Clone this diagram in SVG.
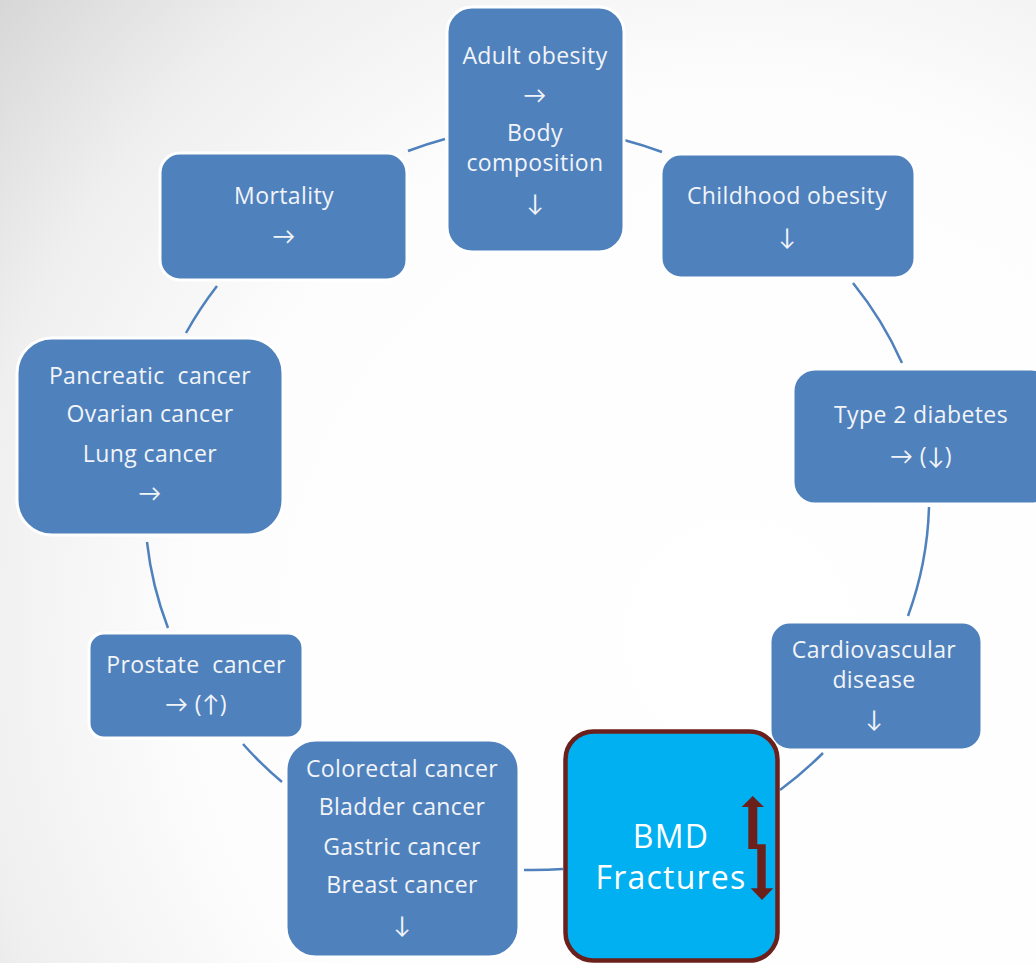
<svg xmlns="http://www.w3.org/2000/svg" width="1036" height="963" viewBox="0 0 1036 963">
<defs>
<radialGradient id="bg" gradientUnits="userSpaceOnUse" cx="740" cy="640" r="1000">
<stop offset="0" stop-color="#ffffff"/>
<stop offset="0.55" stop-color="#fdfdfd"/>
<stop offset="0.78" stop-color="#efefef"/>
<stop offset="1" stop-color="#d4d4d4"/>
</radialGradient>
<style>
.box{fill:#4f81bd;stroke:#ffffff;stroke-width:3}
.t{font-family:"Open Sans",Lato,"Liberation Sans",sans-serif;font-size:23px;letter-spacing:0.4px;fill:#f2f4f8;text-anchor:middle}
.b{font-size:32px;letter-spacing:1.2px;fill:#ffffff}
.c{fill:none;stroke:#4f81bd;stroke-width:2.5}
</style>
</defs>
<rect width="1036" height="963" fill="url(#bg)"/>
<g id="connectors">
<path class="c" d="M624,140 A392,366 0 0 1 662,152"/>
<path class="c" d="M853,283 A392,366 0 0 1 902,363"/>
<path class="c" d="M929,507 A392,366 0 0 1 908,616"/>
<path class="c" d="M823,753 A392,366 0 0 1 780,790"/>
<path class="c" d="M563,869 A392,366 0 0 1 524,870"/>
<path class="c" d="M282,782 A392,366 0 0 1 243,744"/>
<path class="c" d="M168,628 A392,366 0 0 1 147,542"/>
<path class="c" d="M186,333 A392,366 0 0 1 217,286"/>
<path class="c" d="M408,151 A392,366 0 0 1 445,139"/>
</g>
<g id="adult">
<rect class="box" x="447" y="7" width="177" height="245" rx="25"/>
<text class="t" x="535" y="64">Adult obesity</text>
<text class="t" x="535" y="103">→</text>
<text class="t" x="535" y="141">Body</text>
<text class="t" x="535" y="171">composition</text>
<text class="t" x="535" y="211">↓</text>
</g>
<g id="mortality">
<rect class="box" x="160" y="153" width="247" height="127" rx="20"/>
<text class="t" x="284" y="204">Mortality</text>
<text class="t" x="284" y="244">→</text>
</g>
<g id="childhood">
<rect class="box" x="661" y="154" width="254" height="124" rx="20"/>
<text class="t" x="787" y="204">Childhood obesity</text>
<text class="t" x="787" y="245">↓</text>
</g>
<g id="diabetes">
<rect class="box" x="793" y="369" width="260" height="135" rx="22"/>
<text class="t" x="921" y="423">Type 2 diabetes</text>
<text class="t" x="921" y="464">→ (↓)</text>
</g>
<g id="pancreatic">
<rect class="box" x="17" y="338" width="266" height="197" rx="35"/>
<text class="t" x="150" y="384" xml:space="preserve">Pancreatic  cancer</text>
<text class="t" x="150" y="422">Ovarian cancer</text>
<text class="t" x="150" y="462">Lung cancer</text>
<text class="t" x="150" y="501">→</text>
</g>
<g id="cardio">
<rect class="box" x="770" y="622" width="212" height="128" rx="20"/>
<text class="t" x="874" y="658">Cardiovascular</text>
<text class="t" x="874" y="688">disease</text>
<text class="t" x="874" y="727">↓</text>
</g>
<g id="prostate">
<rect class="box" x="89" y="633" width="214" height="105" rx="15"/>
<text class="t" x="196" y="673" xml:space="preserve">Prostate  cancer</text>
<text class="t" x="196" y="712">→ (↑)</text>
</g>
<g id="colorectal">
<rect class="box" x="286" y="740" width="233" height="217" rx="30"/>
<text class="t" x="402" y="777">Colorectal cancer</text>
<text class="t" x="402" y="815">Bladder cancer</text>
<text class="t" x="402" y="855">Gastric cancer</text>
<text class="t" x="402" y="893">Breast cancer</text>
<text class="t" x="402" y="933">↓</text>
</g>
<g id="bmd">
<rect x="565.5" y="731.5" width="212" height="229" rx="28" fill="#00b0f0" stroke="#6b201b" stroke-width="4.5"/>
<text class="t b" x="671" y="848">BMD</text>
<text class="t b" x="671" y="889">Fractures</text>
<polygon fill="#6b201b" points="752.7,796 764,807 757.3,807 757.3,844.3 765.7,844.3 765.7,888.3 773.3,888.3 762,900 750.7,888.3 757.3,888.3 757.3,849 748.3,849 748.3,807 741.7,807"/>
</g>
</svg>
